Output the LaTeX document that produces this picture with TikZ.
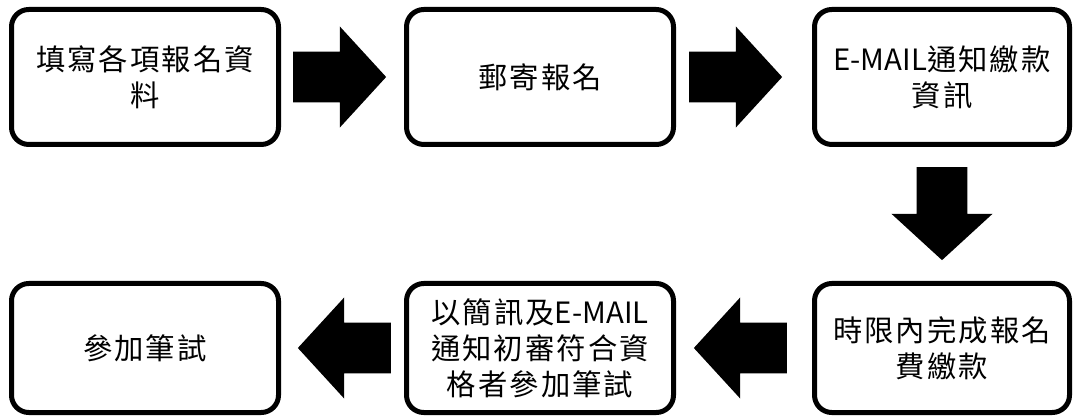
\documentclass[tikz,border=0pt]{standalone}
\usepackage{fontspec}
\newfontfamily\twfont[LetterSpace=7]{Noto Sans CJK TC}
\newfontfamily\twplain{Noto Sans CJK TC}
\newcommand{\email}{{\twplain E-MAIL}}
\usetikzlibrary{shapes.arrows}
\usetikzlibrary{calc}

\tikzset{
  stepbox/.style={draw, line width=3.75pt, rounded corners=13pt, align=center,
    inner sep=0pt, minimum width=200.25pt, minimum height=101.25pt,
    font=\twfont\fontsize{22}{27}\selectfont},
  blockarrow/.style={single arrow, fill=black, draw=none, inner sep=18.75pt,
    minimum height=69.75pt, minimum width=75.75pt,
    single arrow head extend=19pt, single arrow tip angle=95, anchor=tip}
}

\begin{document}
\begin{tikzpicture}[x=0.75pt,y=0.75pt,yscale=-1,xscale=1]
\path[use as bounding box] (0,0) rectangle (1073,416);

%Top row
\node[stepbox] (fill) at (145,77) {填寫各項報名資\\料};
\node[stepbox] (mail) at (540,77) {郵寄報名};
\node[stepbox, minimum width=191.25pt] (notify) at (942,77) {\email 通知繳款\\資訊};

%Bottom row
\node[stepbox, minimum width=191.25pt, minimum height=96.75pt] (pay) at (942,348) {時限內完成報名\\費繳款};
\node[stepbox, minimum height=96.75pt] (sms) at (540,348) {以簡訊及\email\\通知初審符合資\\格者參加筆試};
\node[stepbox, minimum height=96.75pt] (exam) at (145,348) {參加筆試};

%Block arrows
\node[blockarrow] (a1) at ($(mail.west)+(-17.5,0)$) {};
\node[blockarrow] (a2) at ($(notify.west)+(-29.5,0)$) {};
\node[blockarrow, shape border rotate=270] (a3) at ($(pay.north)+(0,-20.5)$) {};
\node[blockarrow, shape border rotate=180] (a4) at ($(sms.east)+(17.5,0)$) {};
\node[blockarrow, shape border rotate=180] (a5) at ($(exam.east)+(16.5,0)$) {};

\end{tikzpicture}
\end{document}
